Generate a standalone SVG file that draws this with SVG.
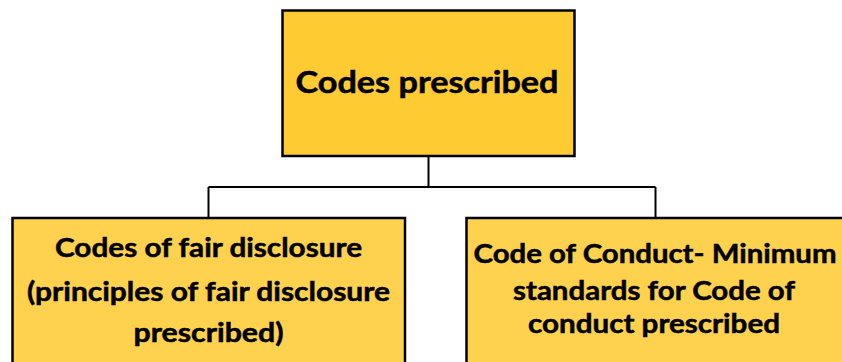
<svg xmlns="http://www.w3.org/2000/svg" width="842" height="362" viewBox="0 0 842 362">
  <style>
    .box { stroke: #000; stroke-width: 2.5; }
    .root { fill: #FECB33; }
    .leaf { fill: #FED24F; }
    .label { font-family: Lato, "Open Sans", "Liberation Sans", sans-serif; font-weight: bold; fill: #000; stroke: #000; stroke-width: 0.5; text-anchor: middle; }
    .conn { fill: none; stroke: #000; stroke-width: 2; }
  </style>
  <rect width="842" height="362" fill="#fff"/>

  <g id="connectors">
    <path class="conn" d="M428.5,156 V187 M208.5,187 H655.5 M208.5,187 V218 M655.5,187 V218"/>
  </g>

  <g id="codes-prescribed">
    <rect class="box root" x="282.5" y="10.5" width="292" height="145.5"/>
    <text class="label" x="427" y="93" font-size="30.5" textLength="263" lengthAdjust="spacingAndGlyphs">Codes prescribed</text>
  </g>

  <g id="fair-disclosure">
    <rect class="box leaf" x="12.5" y="218" width="392.5" height="160"/>
    <text class="label" x="208.5" y="257" font-size="26.5" textLength="307" lengthAdjust="spacingAndGlyphs">Codes of fair disclosure</text>
    <text class="label" x="208.5" y="301" font-size="26.5" textLength="363" lengthAdjust="spacingAndGlyphs">(principles of fair disclosure</text>
    <text class="label" x="208.5" y="342" font-size="26.5" textLength="150" lengthAdjust="spacingAndGlyphs">prescribed)</text>
  </g>

  <g id="code-of-conduct">
    <rect class="box leaf" x="466.5" y="218" width="390" height="160"/>
    <text class="label" x="655" y="263" font-size="26.5" textLength="363" lengthAdjust="spacingAndGlyphs">Code of Conduct- Minimum</text>
    <text class="label" x="654" y="300" font-size="26.5" textLength="282" lengthAdjust="spacingAndGlyphs">standards for Code of</text>
    <text class="label" x="654" y="333" font-size="26.5" textLength="252" lengthAdjust="spacingAndGlyphs">conduct prescribed</text>
  </g>
</svg>
